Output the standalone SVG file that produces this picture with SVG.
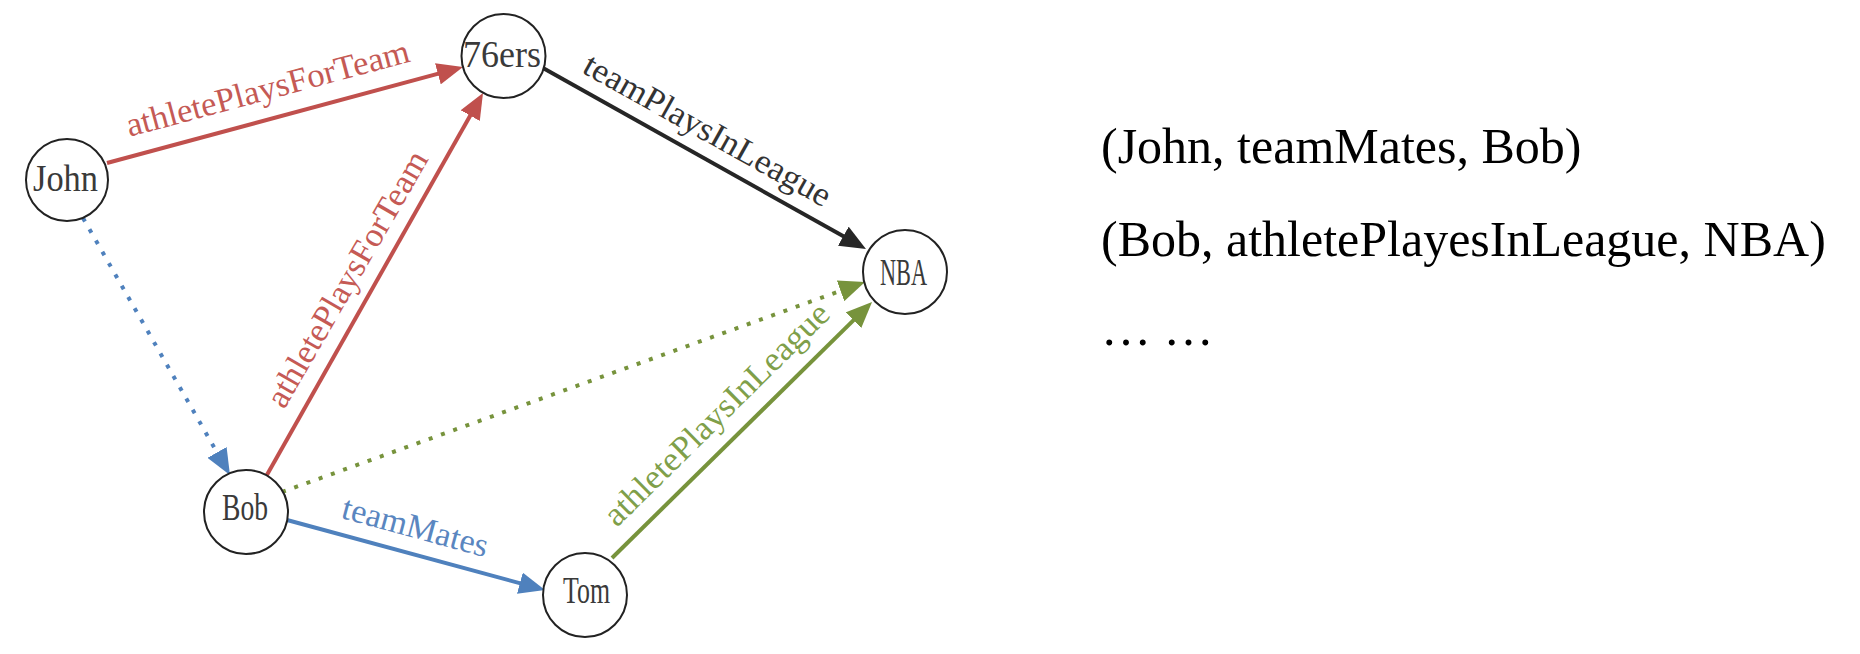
<svg xmlns="http://www.w3.org/2000/svg" width="1860" height="654" viewBox="0 0 1860 654">
<style>
.node circle{fill:#fff;stroke:#222;stroke-width:2}
.node text{font-family:"Liberation Serif","Times New Roman",serif;font-size:37px;fill:#3a3a3a;text-anchor:middle}
.edge{fill:none;stroke-width:4;stroke-linecap:butt}
.dot{stroke-dasharray:4 9}
.lbl{font-family:"Liberation Serif","Times New Roman",serif;font-size:34px;text-anchor:middle}
.side{font-family:"Liberation Serif","Times New Roman",serif;font-size:50px;fill:#000}
</style>
<defs>
<marker id="ar" markerUnits="userSpaceOnUse" markerWidth="26" markerHeight="22" refX="14" refY="11" orient="auto"><path d="M0,0 L26,11 L0,22 z" fill="#c0504d"/></marker>
<marker id="ak" markerUnits="userSpaceOnUse" markerWidth="26" markerHeight="22" refX="14" refY="11" orient="auto"><path d="M0,0 L26,11 L0,22 z" fill="#262626"/></marker>
<marker id="ag" markerUnits="userSpaceOnUse" markerWidth="26" markerHeight="22" refX="14" refY="11" orient="auto"><path d="M0,0 L26,11 L0,22 z" fill="#77933c"/></marker>
<marker id="ab" markerUnits="userSpaceOnUse" markerWidth="26" markerHeight="22" refX="14" refY="11" orient="auto"><path d="M0,0 L26,11 L0,22 z" fill="#4f81bd"/></marker>
</defs>
<rect width="1860" height="654" fill="#fff"/>
<g id="connectors">
<path class="edge" stroke="#c0504d" d="M107,163 L451.4,70.1" marker-end="url(#ar)"/>
<path class="edge" stroke="#c0504d" d="M266.6,475.4 L477.1,103.4" marker-end="url(#ar)"/>
<path class="edge" stroke="#262626" d="M543,68 L855.5,243.1" marker-end="url(#ak)"/>
<path class="edge" stroke="#77933c" stroke-width="3.5" d="M612,558 L863.5,310.4" marker-end="url(#ag)"/>
<path class="edge dot" stroke="#77933c" d="M282,492 L853.7,286.1" marker-end="url(#ag)"/>
<path class="edge dot" stroke="#4f81bd" d="M83,218 L224,464.6" marker-end="url(#ab)"/>
<path class="edge" stroke="#4f81bd" d="M287,520 L533.4,586.9" marker-end="url(#ab)"/>
<text class="lbl" fill="#c55a55" transform="translate(275.7,118.4) rotate(-15)" y="-20" textLength="292" lengthAdjust="spacingAndGlyphs">athletePlaysForTeam</text>
<text class="lbl" fill="#c55a55" transform="translate(371.4,293) rotate(-60)" y="-17" textLength="290" lengthAdjust="spacingAndGlyphs">athletePlaysForTeam</text>
<text class="lbl" fill="#333" transform="translate(694.8,152.8) rotate(29.2)" y="-15" textLength="278" lengthAdjust="spacingAndGlyphs">teamPlaysInLeague</text>
<text class="lbl" fill="#7f9f4a" transform="translate(737,434.9) rotate(-44.6)" y="-18" textLength="302" lengthAdjust="spacingAndGlyphs">athletePlaysInLeague</text>
<text class="lbl" fill="#5a86c0" transform="translate(408.3,552.9) rotate(15.2)" y="-16" textLength="150" lengthAdjust="spacingAndGlyphs">teamMates</text>
</g>
<g id="john" class="node"><circle cx="67" cy="180" r="41"/><text x="65.5" y="191" textLength="65" lengthAdjust="spacingAndGlyphs">John</text></g>
<g id="n76ers" class="node"><circle cx="503.5" cy="56" r="42"/><text x="502" y="67" textLength="78" lengthAdjust="spacingAndGlyphs">76ers</text></g>
<g id="bob" class="node"><circle cx="246" cy="512" r="42"/><text x="245" y="520" textLength="46" lengthAdjust="spacingAndGlyphs">Bob</text></g>
<g id="tom" class="node"><circle cx="585" cy="595" r="42"/><text x="586.5" y="603" textLength="47" lengthAdjust="spacingAndGlyphs">Tom</text></g>
<g id="nba" class="node"><circle cx="905" cy="272" r="42"/><text x="903.5" y="285" textLength="47" lengthAdjust="spacingAndGlyphs">NBA</text></g>
<g id="triples">
<text class="side" x="1101" y="163">(John, teamMates, Bob)</text>
<text class="side" x="1101" y="256">(Bob, athletePlayesInLeague, NBA)</text>
<text class="side" x="1101" y="345">… …</text>
</g>
</svg>
